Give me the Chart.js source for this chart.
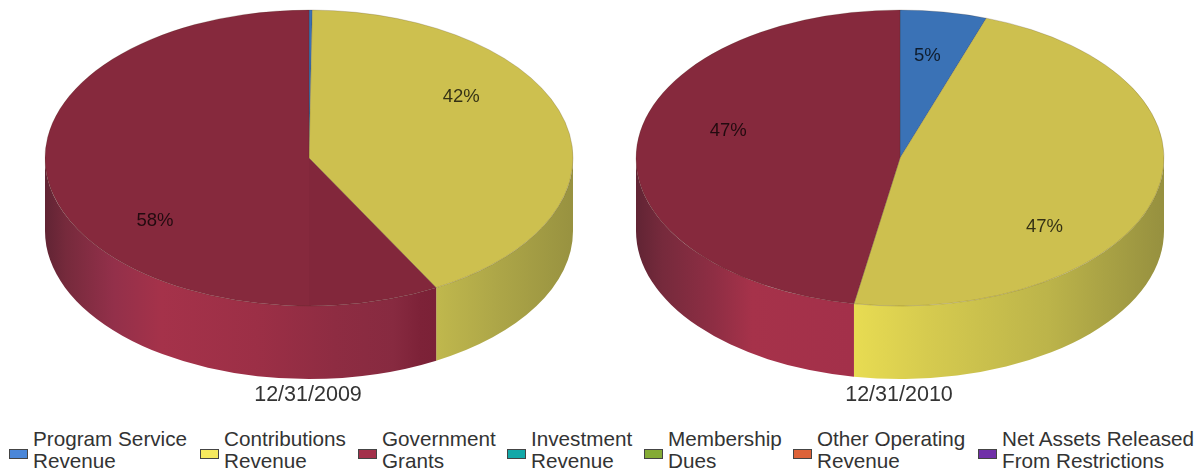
<!DOCTYPE html>
<html>
<head>
<meta charset="utf-8">
<title>Revenue by source</title>
<script src="https://cdn.jsdelivr.net/npm/chart.js@4"></script>
<style>
  html, body { margin: 0; padding: 0; background: #fff; }
  body { position: relative; width: 1201px; height: 472px; overflow: hidden; font-family: "Liberation Sans", Arial, sans-serif; }
  canvas { position: absolute; top: 0; }
  .key { position: absolute; top: 428px; font-size: 20.7px; line-height: 22px; color: #333; white-space: nowrap; }
  .key i { position: absolute; left: -24px; top: 21px; width: 17px; height: 8px; border: 1px solid #444; }
</style>
</head>
<body>
<canvas id="pie2009" width="600" height="410" style="left:8px"></canvas>
<canvas id="pie2010" width="600" height="410" style="left:599px"></canvas>
<div id="legend"></div>
<script>
const categories = [
  ['Program Service', 'Revenue'],
  ['Contributions', 'Revenue'],
  ['Government', 'Grants'],
  ['Investment', 'Revenue'],
  ['Membership', 'Dues'],
  ['Other Operating', 'Revenue'],
  ['Net Assets Released', 'From Restrictions']
];
const values2009 = [0.2, 41.8, 58, 0, 0, 0, 0];
const values2010 = [5.3, 47.49, 47.21, 0, 0, 0, 0];
const dates = ['12/31/2009', '12/31/2010'];

const topColors = ['#3a72b6', '#cdc04f', '#86293d', '#14a0a0', '#7fa333', '#d25a32', '#6a2da0'];
const keyColors = ['#4a86d8', '#f6e95e', '#a3304a', '#12a8a8', '#84ab35', '#dd6238', '#7030a8'];
const keyLeft = [33, 224, 382, 531, 668, 817, 1002];

// pie shape on the page, in px (x is relative to the canvas middle)
const pieRx = 264, pieRy = 148, pieCy = 158, pieDepth = 73, pieShift = 1;

// side wall shading per slice, stops run from left to right edge of the pie
const walls2009 = {
  1: [[0.74, '#c0b84d'], [0.85, '#aea748'], [1, '#989240']],
  2: [[0, '#612434'], [0.04, '#762a3c'], [0.13, '#93304a'], [0.22, '#a5324a'], [0.4, '#9c2f46'], [0.55, '#8e2c42'], [0.66, '#872a40'], [0.71, '#7d2238'], [0.74, '#7b2137']]
};
const walls2010 = {
  1: [[0.41, '#e8dc52'], [0.55, '#d6cb4f'], [0.78, '#bcb44a'], [1, '#96903f']],
  2: [[0, '#612434'], [0.05, '#762a3c'], [0.15, '#8f2e44'], [0.22, '#a6324a'], [0.41, '#a3304a']]
};

// darker part of the top face, counted from the start of a slice up to a rim angle
const topShade2009 = { slice: 2, toAngle: Math.PI / 2, color: 'rgba(60,0,20,0.04)' };

// where the percent text sits: degrees off the slice middle, fraction of the radius
const labelSpots2009 = [null, [-21.7, 0.71], [-21.5, 0.72]];
const labelSpots2010 = [[-1, 0.695], [26, 0.72], [10.8, 0.676]];

const flatPie = {
  id: 'flatPie',
  beforeDatasetsDraw(chart, args, opts) {
    const ctx = chart.ctx;
    const arcs = chart.getDatasetMeta(0).data;
    const cx = chart.width / 2 + pieShift;

    // walls first, only the front half of the rim shows
    arcs.forEach((arc, i) => {
      const stops = opts.walls[i];
      if (!stops) return;
      const a0 = Math.max(arc.startAngle, 0);
      const a1 = Math.min(arc.endAngle, Math.PI);
      if (a1 <= a0) return;
      const grad = ctx.createLinearGradient(cx - pieRx, 0, cx + pieRx, 0);
      stops.forEach(s => grad.addColorStop(s[0], s[1]));
      ctx.beginPath();
      ctx.ellipse(cx, pieCy, pieRx, pieRy, 0, a0, a1);
      ctx.ellipse(cx, pieCy + pieDepth, pieRx, pieRy, 0, a1, a0, true);
      ctx.closePath();
      ctx.fillStyle = grad;
      ctx.fill();
    });

    // squash the round pie into the top ellipse while the library draws it
    const arc = arcs[0];
    ctx.save();
    ctx.translate(cx, pieCy);
    ctx.scale(pieRx / arc.outerRadius, pieRy / arc.outerRadius);
    ctx.translate(-arc.x, -arc.y);
  },
  afterDatasetsDraw(chart, args, opts) {
    const ctx = chart.ctx;
    ctx.restore();

    const arcs = chart.getDatasetMeta(0).data;
    const vals = chart.data.datasets[0].data;
    const cx = chart.width / 2 + pieShift;

    if (opts.shade) {
      ctx.beginPath();
      ctx.moveTo(cx, pieCy);
      ctx.ellipse(cx, pieCy, pieRx, pieRy, 0, arcs[opts.shade.slice].startAngle, opts.shade.toAngle);
      ctx.closePath();
      ctx.fillStyle = opts.shade.color;
      ctx.fill();
    }

    ctx.font = '18.5px "Liberation Sans", Arial, sans-serif';
    ctx.fillStyle = 'rgba(0,0,0,0.75)';
    ctx.textAlign = 'center';
    ctx.textBaseline = 'middle';
    opts.spots.forEach((spot, i) => {
      if (!spot) return;
      const mid = (arcs[i].startAngle + arcs[i].endAngle) / 2 + spot[0] * Math.PI / 180;
      const x = cx + pieRx * spot[1] * Math.cos(mid);
      const y = pieCy + pieRy * spot[1] * Math.sin(mid);
      ctx.fillText(Math.round(vals[i]) + '%', x, y);
    });
  }
};

function makePie(id, values, date, walls, spots, shade) {
  return new Chart(document.getElementById(id), {
    type: 'pie',
    data: {
      labels: categories.map(c => c.join(' ')),
      datasets: [{
        data: values,
        backgroundColor: topColors,
        borderColor: 'rgba(60,40,20,0.3)',
        borderWidth: 0.6,
        clip: false
      }]
    },
    options: {
      responsive: false,
      animation: false,
      events: [],
      plugins: {
        legend: { display: false },
        tooltip: { enabled: false },
        title: {
          display: true,
          text: date,
          position: 'bottom',
          color: '#333',
          font: { family: '"Liberation Sans", Arial, sans-serif', size: 21.5, weight: 'normal' },
          padding: { top: 4, bottom: 2 }
        },
        flatPie: { walls: walls, spots: spots, shade: shade }
      }
    },
    plugins: [flatPie]
  });
}

makePie('pie2009', values2009, dates[0], walls2009, labelSpots2009, topShade2009);
makePie('pie2010', values2010, dates[1], walls2010, labelSpots2010, null);

// legend sits under both pies
const legend = document.getElementById('legend');
categories.forEach((lines, i) => {
  const item = document.createElement('div');
  item.className = 'key';
  item.style.left = keyLeft[i] + 'px';
  item.innerHTML = '<i style="background:' + keyColors[i] + '"></i>' + lines.join('<br>');
  legend.appendChild(item);
});
</script>
</body>
</html>
